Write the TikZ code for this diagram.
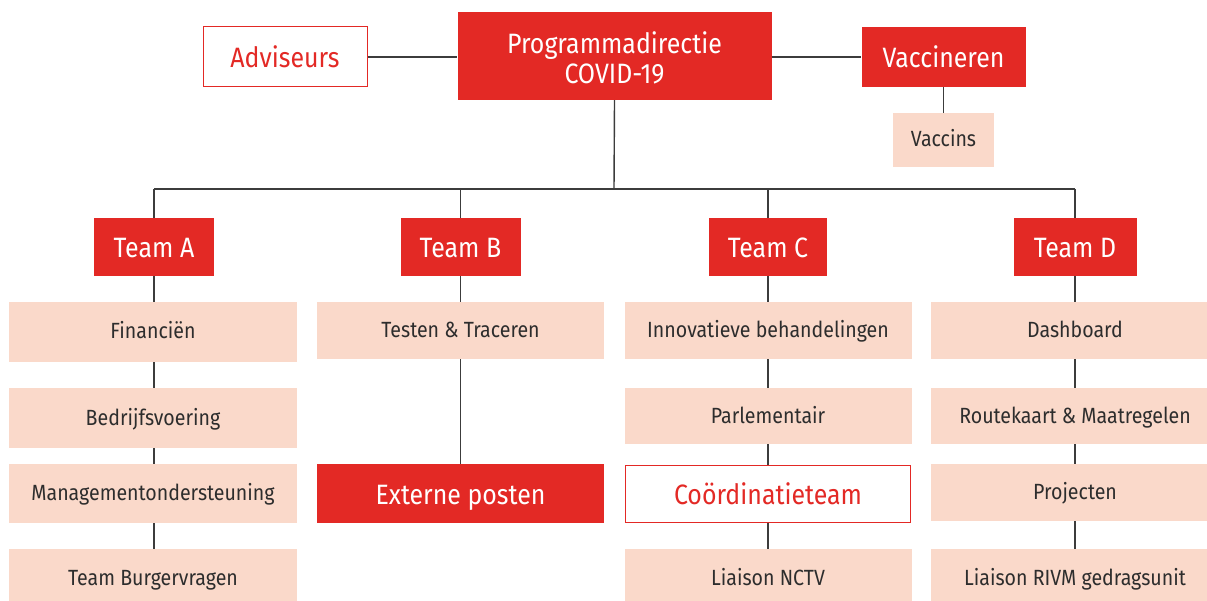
\documentclass[tikz,border=0pt]{standalone}
\usepackage{fontspec}
\setmainfont{Fira Sans}[FakeStretch=0.89]
\definecolor{rvred}{RGB}{227,41,37}
\definecolor{rvpale}{RGB}{250,217,202}
\definecolor{rvtext}{RGB}{45,45,45}
\definecolor{rvline}{RGB}{60,60,60}
\begin{document}
\begin{tikzpicture}[x=1pt,y=-1pt,
  redbox/.style={fill=rvred,draw=none,text=white,inner sep=0pt,font=\fontsize{28}{30}\selectfont,align=center},
  bigtxt/.style={text height=24pt,text depth=2pt},
  outbox/.style={fill=white,draw=rvred,line width=1pt,text=rvred,inner sep=0pt,font=\fontsize{28}{30}\selectfont,bigtxt},
  palebox/.style={fill=rvpale,draw=none,text=rvtext,inner sep=0pt,font=\fontsize{22}{24}\selectfont,text height=17pt,text depth=3pt},
  conn/.style={draw=rvline,line width=1.4pt}]
\useasboundingbox (0,0) rectangle (1207,601);
\fill[white] (0,0) rectangle (1207,601);
% top row
\node[outbox,minimum width=164pt,minimum height=60pt] (adv) at (285,57) {Adviseurs};
\node[redbox,minimum width=314pt,minimum height=88pt] (prog) at (614.5,56) {\rule{0pt}{26pt}Programmadirectie\\COVID-19};
\node[redbox,bigtxt,minimum width=164pt,minimum height=60pt] (vac) at (943.5,57) {Vaccineren};
\node[palebox,minimum width=101pt,minimum height=54pt] (vacs) at (943.5,140) {Vaccins};
% teams
\tikzset{teamlbl/.style={redbox,bigtxt,minimum height=58pt}}
\node[teamlbl,minimum width=120pt] (ta) at (154,247) {Team A};
\node[teamlbl,minimum width=120pt] (tb) at (460.5,247) {Team B};
\node[teamlbl,minimum width=118pt] (tc) at (768,247) {Team C};
\node[teamlbl,minimum width=123pt] (td) at (1075,247) {Team D};
% column A
\node[palebox,minimum width=288pt,minimum height=60pt] (a1) at (153,332) {Financiën};
\node[palebox,minimum width=288pt,minimum height=60pt] (a2) at (153,418) {Bedrijfsvoering};
\node[palebox,minimum width=288pt,minimum height=59pt] (a3) at (153,493.5) {Managementondersteuning};
\node[palebox,minimum width=288pt,minimum height=58pt] (a4) at (153,578) {Team Burgervragen};
% column B
\node[palebox,minimum width=287pt,minimum height=57pt] (b1) at (460.5,330.5) {Testen \& Traceren};
\node[redbox,bigtxt,minimum width=287pt,minimum height=59pt] (b2) at (460.5,493.5) {Externe posten};
% column C
\node[palebox,minimum width=287pt,minimum height=57pt] (c1) at (768,330.5) {Innovatieve behandelingen};
\node[palebox,minimum width=287pt,minimum height=56pt] (c2) at (768,416) {Parlementair};
\node[outbox,minimum width=285pt,minimum height=57pt] (c3) at (768,493.5) {Coördinatieteam};
\node[palebox,minimum width=287pt,minimum height=58pt] (c4) at (768,578) {Liaison NCTV};
% column D
\node[palebox,minimum width=288pt,minimum height=57pt] (d1) at (1075,330.5) {Dashboard};
\node[palebox,minimum width=288pt,minimum height=56pt] (d2) at (1075,416) {Routekaart \& Maatregelen};
\node[palebox,minimum width=288pt,minimum height=57pt] (d3) at (1075,492.5) {Projecten};
\node[palebox,minimum width=288pt,minimum height=58pt] (d4) at (1075,578) {Liaison RIVM gedragsunit};
% connectors
\coordinate (bus) at (614,189);
\draw[conn] (adv.east) -- (adv.east -| prog.west);
\draw[conn] (prog.east |- vac.west) -- (vac.west);
\draw[conn] (vac.south) -- (vacs.north);
\draw[conn] (prog.south) -- (bus);
\draw[conn] (ta.north |- bus) -- (td.north |- bus);
\draw[conn] (ta.north |- bus) -- (ta.north);
\draw[conn] (tb.north |- bus) -- (tb.north);
\draw[conn] (tc.north |- bus) -- (tc.north);
\draw[conn] (td.north |- bus) -- (td.north);
\draw[conn] (ta.south) -- (ta.south |- a1.north);
\draw[conn] (a1.south -| ta.south) -- (a2.north -| ta.south);
\draw[conn] (a2.south -| ta.south) -- (a3.north -| ta.south);
\draw[conn] (a3.south -| ta.south) -- (a4.north -| ta.south);
\draw[conn] (tb.south) -- (b1.north);
\draw[conn] (b1.south) -- (b2.north);
\draw[conn] (tc.south) -- (c1.north);
\draw[conn] (c1.south) -- (c2.north);
\draw[conn] (c2.south) -- (c3.north);
\draw[conn] (c3.south) -- (c4.north);
\draw[conn] (td.south) -- (d1.north);
\draw[conn] (d1.south) -- (d2.north);
\draw[conn] (d2.south) -- (d3.north);
\draw[conn] (d3.south) -- (d4.north);
\end{tikzpicture}
\end{document}
